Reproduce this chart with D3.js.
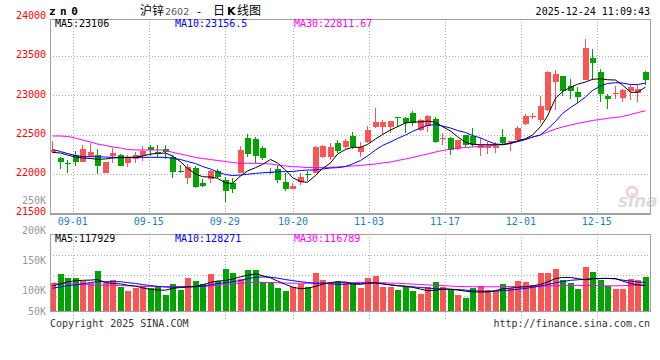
<!DOCTYPE html>
<html><head><meta charset="utf-8">
<script src="https://cdn.jsdelivr.net/npm/d3@7"></script>
<style>body{margin:0;background:#fff}svg{display:block}</style>
</head><body><svg id="c" width="660" height="360"></svg>
<script>
const dates = ("08-27 08-28 08-29 09-01 09-02 09-03 09-04 09-05 09-08 09-09 09-10 09-11 09-12 " +
 "09-15 09-16 09-17 09-18 09-19 09-22 09-23 09-24 09-25 09-26 09-29 09-30 10-09 10-10 " +
 "10-13 10-14 10-15 10-16 10-17 10-20 10-21 10-22 10-23 10-24 10-27 10-28 10-29 10-30 10-31 " +
 "11-03 11-04 11-05 11-06 11-07 11-10 11-11 11-12 11-13 11-14 11-17 11-18 11-19 11-20 11-21 " +
 "11-24 11-25 11-26 11-27 11-28 12-01 12-02 12-03 12-04 12-05 12-08 12-09 12-10 12-11 12-12 " +
 "12-15 12-16 12-17 12-18 12-19 12-22 12-23 12-24").split(" ");

const open = [22275,22205,22140,22235,22155,22225,22235,22015,22225,22235,
22140,22185,22225,22345,22280,22320,22220,22035,21950,22075,
21885,21930,22035,21925,21880,22015,22460,22445,22330,22025,
22055,21900,21810,21900,22000,22015,22220,22210,22390,22340,
22480,22275,22400,22600,22595,22600,22720,22710,22770,22560,
22615,22700,22455,22460,22310,22490,22480,22325,22325,22325,
22475,22390,22430,22640,22730,22685,22815,23175,23250,23120,
23045,23195,23480,23295,22995,23025,22965,23060,23025,23295];
const high = [22420,22220,22175,22295,22365,22390,22315,22155,22335,22250,
22240,22280,22355,22365,22365,22365,22245,22110,22120,22100,
21930,22050,22060,21965,21950,22360,22510,22470,22350,22070,
22110,22015,21880,22005,22030,22355,22370,22395,22430,22440,
22535,22410,22610,22835,22685,22675,22730,22720,22805,22695,
22750,22720,22515,22465,22435,22495,22590,22455,22410,22400,
22570,22420,22610,22765,22770,22995,23305,23325,23250,23215,
23110,23720,23590,23335,23015,23120,23080,23145,23135,23315];
const low = [22265,22065,22015,22100,22150,22215,21995,22010,22135,22095,
22090,22135,22165,22225,22205,22185,21950,22005,21870,21815,
21835,21880,21945,21645,21760,22005,22220,22140,22180,21995,
21880,21780,21800,21855,21910,22005,22200,22175,22270,22310,
22310,22220,22390,22580,22495,22520,22600,22525,22610,22550,
22535,22395,22365,22240,22300,22345,22345,22230,22255,22270,
22365,22285,22420,22620,22695,22645,22805,22815,22990,22955,
22905,23195,23195,22920,22825,22955,22920,22935,22920,23135];
const close = [22300,22155,22135,22155,22320,22280,22105,22150,22260,22105,
22210,22235,22295,22305,22250,22280,22025,22030,22085,21835,
21850,22035,21965,21780,21805,22305,22250,22230,22200,22020,
21920,21805,21850,21965,21995,22340,22350,22345,22295,22420,
22340,22345,22560,22665,22665,22675,22715,22645,22650,22685,
22740,22410,22460,22305,22430,22365,22365,22365,22355,22355,
22395,22420,22590,22740,22740,22865,23300,23275,23055,23055,
22985,23610,23415,23015,22955,23035,23070,23110,23080,23195];
const volume = [112400,127400,121500,121500,116600,112400,132700,112400,117700,106900,
100000,103700,108100,104800,108500,93500,111800,101600,121500,116600,
111300,127400,116600,136000,129500,118900,133900,133900,114000,114000,
103700,100000,106000,111300,106900,129500,117700,112400,116600,112400,
111300,103700,121500,124200,106900,106900,101600,108100,100000,95200,
106900,115000,106900,101600,93500,87100,103700,108100,101600,100000,
111300,105300,116600,114500,109200,129500,129500,135500,117700,112400,
103200,138700,130600,117700,108500,102100,102100,119800,118200,123100];

const ma5 = [22274,22265,22240,22214,22202,22195,22185,22189,22202,22205,
22208,22210,22227,22252,22259,22265,22227,22154,22070,21997,
21963,21959,21943,21883,21879,21972,22036,22078,22119,22182,
22138,22048,21953,21899,21892,21978,22068,22138,22252,22310,
22338,22338,22374,22444,22501,22559,22601,22648,22661,22661,
22673,22657,22601,22546,22473,22402,22376,22371,22371,22371,
22371,22389,22418,22448,22495,22601,22737,22963,23047,23103,
23142,23171,23205,23213,23200,23196,23133,23040,23040,23106];
const ma10 = [22310,22284,22259,22233,22221,22218,22218,22214,22210,22210,
22210,22210,22210,22210,22210,22210,22198,22182,22157,22131,
22093,22061,22023,21991,21978,21985,21994,22006,22013,22019,
22027,22027,22029,22042,22048,22048,22061,22074,22078,22093,
22125,22170,22227,22304,22361,22406,22450,22495,22540,22584,
22616,22629,22610,22584,22552,22527,22489,22457,22418,22380,
22374,22387,22409,22437,22469,22495,22571,22667,22769,22846,
22903,22980,23062,23120,23152,23162,23158,23139,23139,23156];
const ma30 = [22482,22482,22476,22457,22431,22406,22380,22361,22342,22329,
22310,22304,22304,22304,22304,22300,22274,22252,22233,22208,
22195,22182,22170,22157,22144,22134,22134,22134,22131,22125,
22112,22100,22091,22087,22080,22078,22080,22083,22087,22093,
22100,22106,22116,22125,22138,22151,22170,22189,22208,22233,
22252,22278,22297,22313,22329,22335,22342,22348,22355,22364,
22376,22393,22418,22444,22469,22495,22533,22571,22597,22622,
22642,22661,22680,22693,22708,22718,22731,22755,22780,22805];

const volMa5 = [108100,111300,114500,116600,117300,117700,118500,113700,112100,111300,
109200,107600,104800,102100,101100,100800,104000,105300,106500,107300,
109700,113700,116100,116900,119400,123100,125800,128200,125000,121500,
116100,110500,106000,103200,104000,107300,110800,113700,114500,114500,
111300,110500,112400,113200,111600,109700,108400,107300,105600,102700,
100000,100800,102700,102400,101100,99200,97900,97900,97900,100000,
103200,104400,105600,106500,108100,110500,114500,120200,122100,122100,
120200,118200,120200,120500,120500,120200,116100,112100,109700,108500];
const volMa10 = [104000,106500,108400,109700,111300,113700,115000,115000,115000,115000,
113400,112100,110200,108500,107300,106000,106000,106000,106100,106500,
107300,109700,112100,113200,115000,116900,120200,122300,122900,122600,
121000,118500,116900,115000,113700,112400,112900,111600,110500,111000,
111600,112400,112900,112900,111300,109700,108400,107300,106500,105300,
104400,103200,102900,102400,101900,101100,100000,99200,98900,99500,
100000,101100,102400,103700,105600,107600,110200,113400,115300,117300,
118200,119000,119700,120200,120500,119700,117700,116100,114500,113700];
const volMa30 = [112400,112400,112100,111300,110500,109700,109400,109000,108900,108500,
108100,107700,107400,107100,106900,106900,106900,106900,106900,106900,
107300,108100,109200,110500,111300,112400,113200,113900,114000,113700,
113200,112700,112400,112400,112400,112400,112400,112400,113400,113500,
113700,113900,114000,113700,113200,112700,112300,111600,111000,110300,
109700,109000,108400,107700,107100,106800,106600,106500,106500,106500,
106600,106800,106900,107300,107600,107900,108100,108300,108400,108500,
108500,108500,108400,108200,108100,108100,108400,108900,109400,109700];

const priceTicks = [21500,22000,22500,23000,23500,24000];
const priceGrid = [22000,22500,23000,23500];
const volTicks = [50000,100000,150000,200000,250000];
const dateTicks = ["09-01","09-15","09-29","10-20","11-03","11-17","12-01","12-15"];
const priceLegend = [["MA5:23106","#000"],["MA10:23156.5","#0000ff"],["MA30:22811.67","#ff00ff"]];
const volLegend = [["MA5:117929","#000"],["MA10:128271","#0000ff"],["MA30:116789","#ff00ff"]];

const W=660, L=50, R=650, PT=18.5, PB=213, VT=234, VB=311;
const RED="#fa5555", GREEN="#00a400", GRID="#b0b0b0", AX="#a0a0a0";
const MONO="'DejaVu Sans Mono', monospace";
const svg = d3.select("#c");
const idx = d3.range(dates.length);
const xb = d3.scaleBand().domain(idx).range([L,R]);
const gx = d3.scaleLinear().domain([0, dates.length-1]).range([L,R]);
const yp = d3.scaleLinear().domain([21500,24000]).range([213,17]);
const yv = d3.scaleLinear().domain([100000,250000]).range([290.7,200.7]);
const bx = i => Math.round(xb(i));

// grid
const g = svg.append("g").attr("shape-rendering","crispEdges");
priceGrid.forEach(t => g.append("line").attr("x1",L).attr("x2",R)
  .attr("y1",Math.round(yp(t))+0.5).attr("y2",Math.round(yp(t))+0.5)
  .attr("stroke",GRID).attr("stroke-dasharray","1,2"));
[1,2,3].forEach(k => { const y = Math.round(VT + k*20.5)+0.5;
  g.append("line").attr("x1",L).attr("x2",R).attr("y1",y).attr("y2",y)
   .attr("stroke",GRID).attr("stroke-dasharray","1,2"); });
dateTicks.forEach(d => { const x = Math.round(gx(dates.indexOf(d)))+0.5;
  g.append("line").attr("x1",x).attr("x2",x).attr("y1",PT).attr("y2",PB).attr("stroke",GRID).attr("stroke-dasharray","1,2");
  g.append("line").attr("x1",x).attr("x2",x).attr("y1",VT).attr("y2",320).attr("stroke",GRID).attr("stroke-dasharray","1,2");
});

// watermark
svg.append("circle").attr("cx",632).attr("cy",192).attr("r",5).attr("fill","none").attr("stroke","#f5cccc").attr("stroke-width",2.5);
svg.append("text").attr("x",618).attr("y",207).text("sina")
  .attr("font-family","'DejaVu Sans', sans-serif").attr("font-size",17).attr("font-weight","bold")
  .attr("font-style","italic").attr("fill","#dcdcdc");

// candles
const cg = svg.append("g").attr("shape-rendering","crispEdges");
idx.forEach(i => {
  const up = close[i] >= open[i], col = up ? RED : GREEN, x = bx(i);
  const yh = Math.round(yp(high[i])), yl = Math.round(yp(low[i]));
  cg.append("rect").attr("x",x+2).attr("width",1).attr("y",yh).attr("height",Math.max(1,yl-yh)).attr("fill",col);
  const y1 = Math.round(yp(Math.max(open[i],close[i]))), y2 = Math.round(yp(Math.min(open[i],close[i])));
  cg.append("rect").attr("x",x).attr("width",6).attr("y",y1).attr("height",Math.max(1,y2-y1)).attr("fill",col);
});
// volume bars
idx.forEach(i => {
  const col = close[i] >= open[i] ? RED : GREEN, y = Math.round(yv(volume[i]));
  cg.append("rect").attr("x",bx(i)).attr("width",6).attr("y",y).attr("height",VB-y).attr("fill",col);
});

// MA lines
const lineP = d3.line().x((d,i)=>bx(i)+2.5).y(d=>yp(d));
const lineV = d3.line().x((d,i)=>bx(i)+2.5).y(d=>yv(d));
[[ma30,"#ff00ff"],[ma10,"#0000ff"],[ma5,"#000"]].forEach(([s,c]) =>
  svg.append("path").attr("d",lineP(s)).attr("fill","none").attr("stroke",c).attr("stroke-width",1));
[[volMa30,"#ff00ff"],[volMa10,"#0000ff"],[volMa5,"#000"]].forEach(([s,c]) =>
  svg.append("path").attr("d",lineV(s)).attr("fill","none").attr("stroke",c).attr("stroke-width",1));

// frames
const f = svg.append("g").attr("shape-rendering","crispEdges").attr("stroke",AX).attr("fill","none");
f.append("line").attr("x1",L).attr("x2",R).attr("y1",19).attr("y2",19);
f.append("line").attr("x1",L).attr("x2",L).attr("y1",19).attr("y2",PB+1);
f.append("line").attr("x1",R).attr("x2",R).attr("y1",19).attr("y2",PB+1);
f.append("line").attr("x1",L).attr("x2",R+1).attr("y1",PB+0.5).attr("y2",PB+0.5).attr("stroke-width",2);
f.append("line").attr("x1",L).attr("x2",R).attr("y1",VT).attr("y2",VT);
f.append("line").attr("x1",L).attr("x2",L).attr("y1",VT).attr("y2",VB);
f.append("line").attr("x1",R).attr("x2",R).attr("y1",VT).attr("y2",VB);
f.append("line").attr("x1",L).attr("x2",R+1).attr("y1",VB+0.5).attr("y2",VB+0.5);

// axis labels
const txt = (x,y,s,col,anchor,size) => svg.append("text").attr("x",x).attr("y",y).text(s).attr("fill",col)
   .attr("font-family",MONO).attr("font-size",size||10).attr("text-anchor",anchor||"start");
priceTicks.forEach(t => txt(46, yp(t)+2.2, t, "#ff0000", "end"));
volTicks.forEach(v => txt(46, Math.min(yv(v), VB)+3.6, (v/1000)+"K", "#999999", "end"));
dateTicks.forEach(d => txt(gx(dates.indexOf(d)), 224.6, d, "#1a80c8", "middle"));

// legends
const lx = [55,175,294];
priceLegend.forEach(([s,c],k) => txt(lx[k], 27, s, c));
volLegend.forEach(([s,c],k) => txt(lx[k], 242, s, c));

// header
txt(49, 15, "zn0", "#000", "start", 11).attr("font-weight","bold").attr("letter-spacing","4.5");
const CJK = "'Noto Sans CJK SC', sans-serif";
svg.append("text").attr("x",140).attr("y",15).attr("font-family",CJK).attr("font-size",12).attr("fill","#000").text("沪锌");
svg.append("text").attr("x",165).attr("y",14.5).attr("font-family","'DejaVu Sans', sans-serif").attr("font-size",9.5).attr("fill","#555").text("2602");
svg.append("text").attr("x",199).attr("y",14.5).attr("font-family","'DejaVu Sans', sans-serif").attr("font-size",11).attr("text-anchor","middle").attr("fill","#000").text("-");
svg.append("text").attr("x",213).attr("y",15).attr("font-family",CJK).attr("font-size",12).attr("fill","#000").text("日");
svg.append("text").attr("x",227).attr("y",15).attr("font-family","'DejaVu Sans', sans-serif").attr("font-size",11).attr("font-weight","bold").attr("fill","#000").text("K");
svg.append("text").attr("x",237).attr("y",15).attr("font-family",CJK).attr("font-size",12).attr("fill","#000").text("线图");
txt(650, 15, "2025-12-24 11:09:43", "#000", "end");

// footer
txt(50, 326.5, "Copyright 2025 SINA.COM", "#333");
txt(650, 326.5, "http://finance.sina.com.cn", "#333", "end");
</script></body></html>
